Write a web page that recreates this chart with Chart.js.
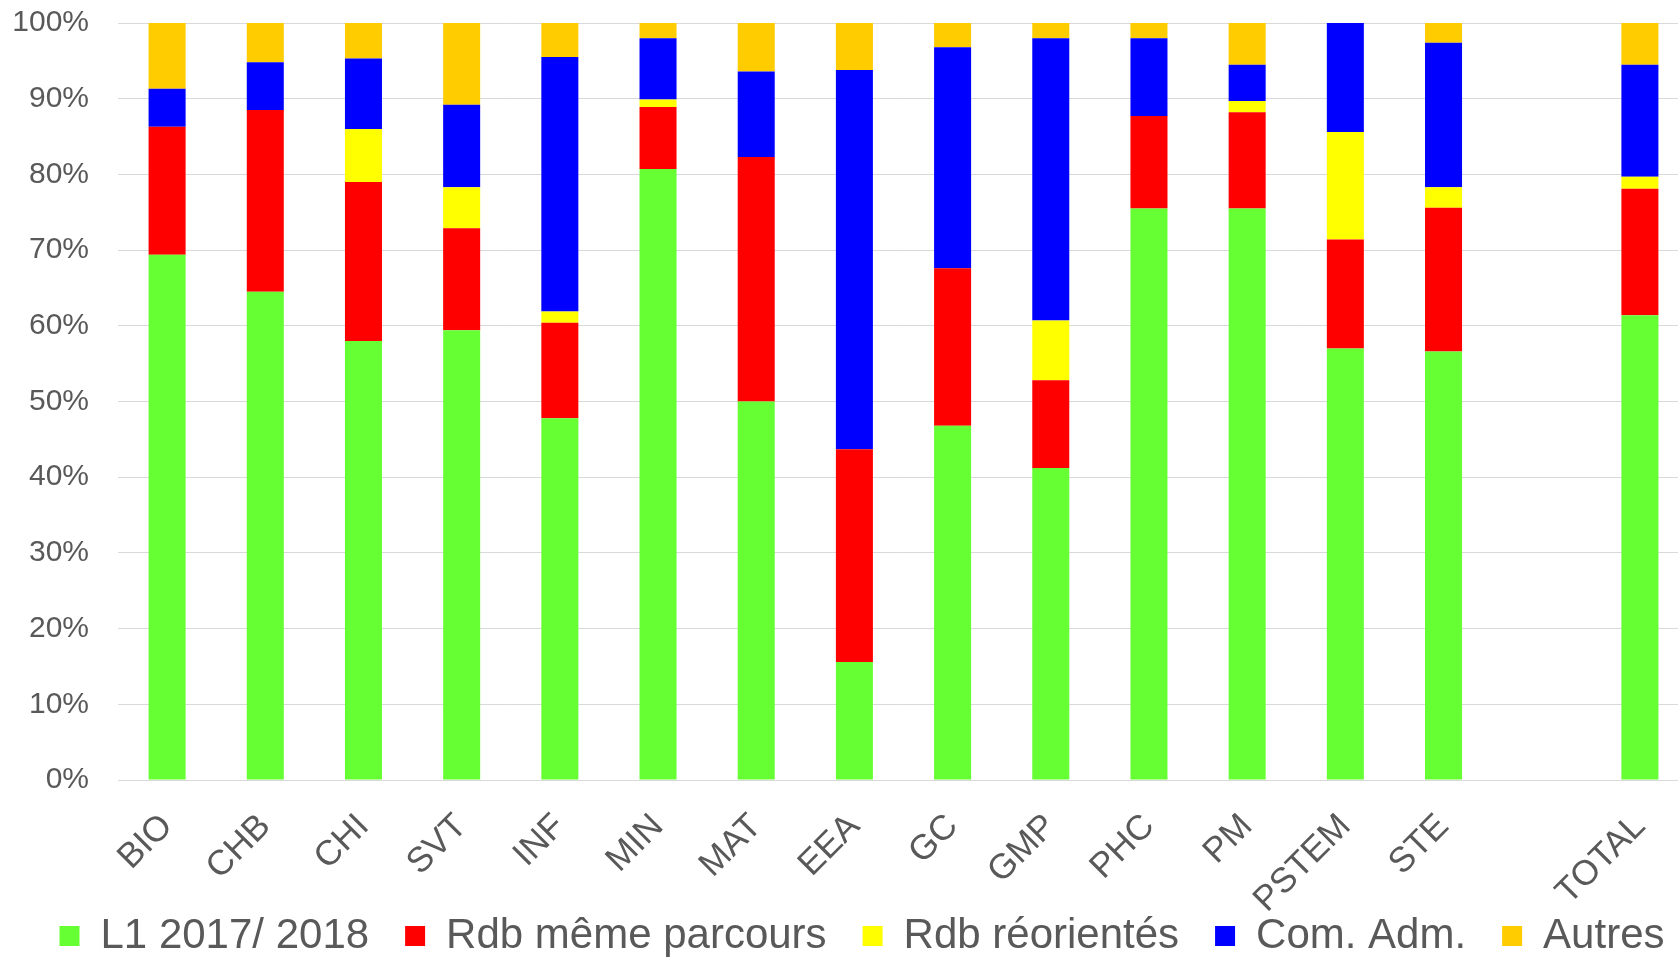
<!DOCTYPE html>
<html>
<head>
<meta charset="utf-8">
<script src="https://cdn.jsdelivr.net/npm/chart.js@4"></script>
<style>
  html, body { margin: 0; padding: 0; background: #fff; overflow: hidden; }
  #wrap { width: 1724px; height: 958px; }
</style>
</head>
<body>
<div id="wrap"><canvas id="chart" width="1724" height="958"></canvas></div>
<script>
// Categories (blank slot before TOTAL, as in the original)
const categories = ['BIO', 'CHB', 'CHI', 'SVT', 'INF', 'MIN', 'MAT', 'EEA', 'GC', 'GMP', 'PHC', 'PM', 'PSTEM', 'STE', '', 'TOTAL'];

// Shares in %
const l1 =        [69.4, 64.5, 58.0, 59.4, 47.8, 80.7, 50.0, 15.6, 46.8, 41.2, 75.5, 75.5, 57.0, 56.6, null, 61.4];
const rdbMeme =   [16.9, 24.0, 21.0, 13.5, 12.6,  8.2, 32.3, 28.1, 20.8, 11.6, 12.2, 12.7, 14.4, 19.0, null, 16.7];
const rdbReor =   [ 0.0,  0.0,  7.0,  5.4,  1.5,  1.0,  0.0,  0.0,  0.0,  7.9,  0.0,  1.5, 14.2,  2.7, null,  1.6];
const comAdm =    [ 5.0,  6.3,  9.3, 10.9, 33.6,  8.1, 11.3, 50.1, 29.2, 37.3, 10.3,  4.8, 14.4, 19.1, null, 14.8];
const autres =    [ 8.7,  5.2,  4.7, 10.8,  4.5,  2.0,  6.4,  6.2,  3.2,  2.0,  2.0,  5.5,  0.0,  2.6, null,  5.5];

const yTicks = [0, 10, 20, 30, 40, 50, 60, 70, 80, 90, 100];

const textColor = '#595959';
const font = "'Liberation Sans', Arial, sans-serif";

function ds(label, data, color) {
    return {
        label: label,
        data: data,
        backgroundColor: color,
        borderWidth: 0,
        barPercentage: 0.377,
        categoryPercentage: 1.0
    };
}

// rotated category labels run into the legend band, so don't clip them at the axis box
const unclipLabels = {
    id: 'unclipLabels',
    afterLayout(chart) {
        chart.scales.x.bottom = chart.height;
    }
};

new Chart(document.getElementById('chart').getContext('2d'), {
    type: 'bar',
    data: {
        labels: categories,
        datasets: [
            ds('L1 2017/ 2018', l1, '#66FF33'),
            ds('Rdb même parcours', rdbMeme, '#FF0000'),
            ds('Rdb réorientés', rdbReor, '#FFFF00'),
            ds('Com. Adm.', comAdm, '#0000FF'),
            ds('Autres', autres, '#FFCC00')
        ]
    },
    plugins: [unclipLabels],
    options: {
        responsive: false,
        animation: false,
        layout: { padding: { top: 23, left: 0, right: 0, bottom: -9 } },
        plugins: {
            tooltip: { enabled: false },
            legend: {
                position: 'bottom',
                labels: {
                    boxWidth: 20,
                    boxHeight: 20,
                    padding: 36,
                    color: textColor,
                    font: { family: font, size: 42 }
                }
            }
        },
        scales: {
            x: {
                stacked: true,
                grid: { display: false },
                border: { display: true, color: '#d9d9d9', width: 1 },
                ticks: {
                    color: textColor,
                    font: { family: font, size: 35 },
                    minRotation: 45,
                    maxRotation: 45,
                    autoSkip: false,
                    padding: 18
                },
                afterFit: function(scale) { scale.height = 99; }
            },
            y: {
                stacked: true,
                min: 0,
                max: 100,
                afterBuildTicks: function(scale) {
                    scale.ticks = yTicks.map(v => ({ value: v }));
                },
                grid: { color: '#d9d9d9', lineWidth: 1, drawTicks: false },
                border: { display: false },
                ticks: {
                    color: textColor,
                    font: { family: font, size: 30 },
                    padding: 29,
                    callback: v => v + '%'
                },
                afterFit: function(scale) {
                    scale.width = 118;
                    scale.paddingTop = 0;
                    scale.paddingBottom = 0;
                }
            },
            pad: {
                position: 'right',
                display: true,
                grid: { display: false },
                border: { display: false },
                ticks: { display: false },
                afterFit: function(scale) {
                    scale.width = 35;
                    scale.paddingTop = 0;
                    scale.paddingBottom = 0;
                }
            }
        }
    }
});
</script>
</body>
</html>
